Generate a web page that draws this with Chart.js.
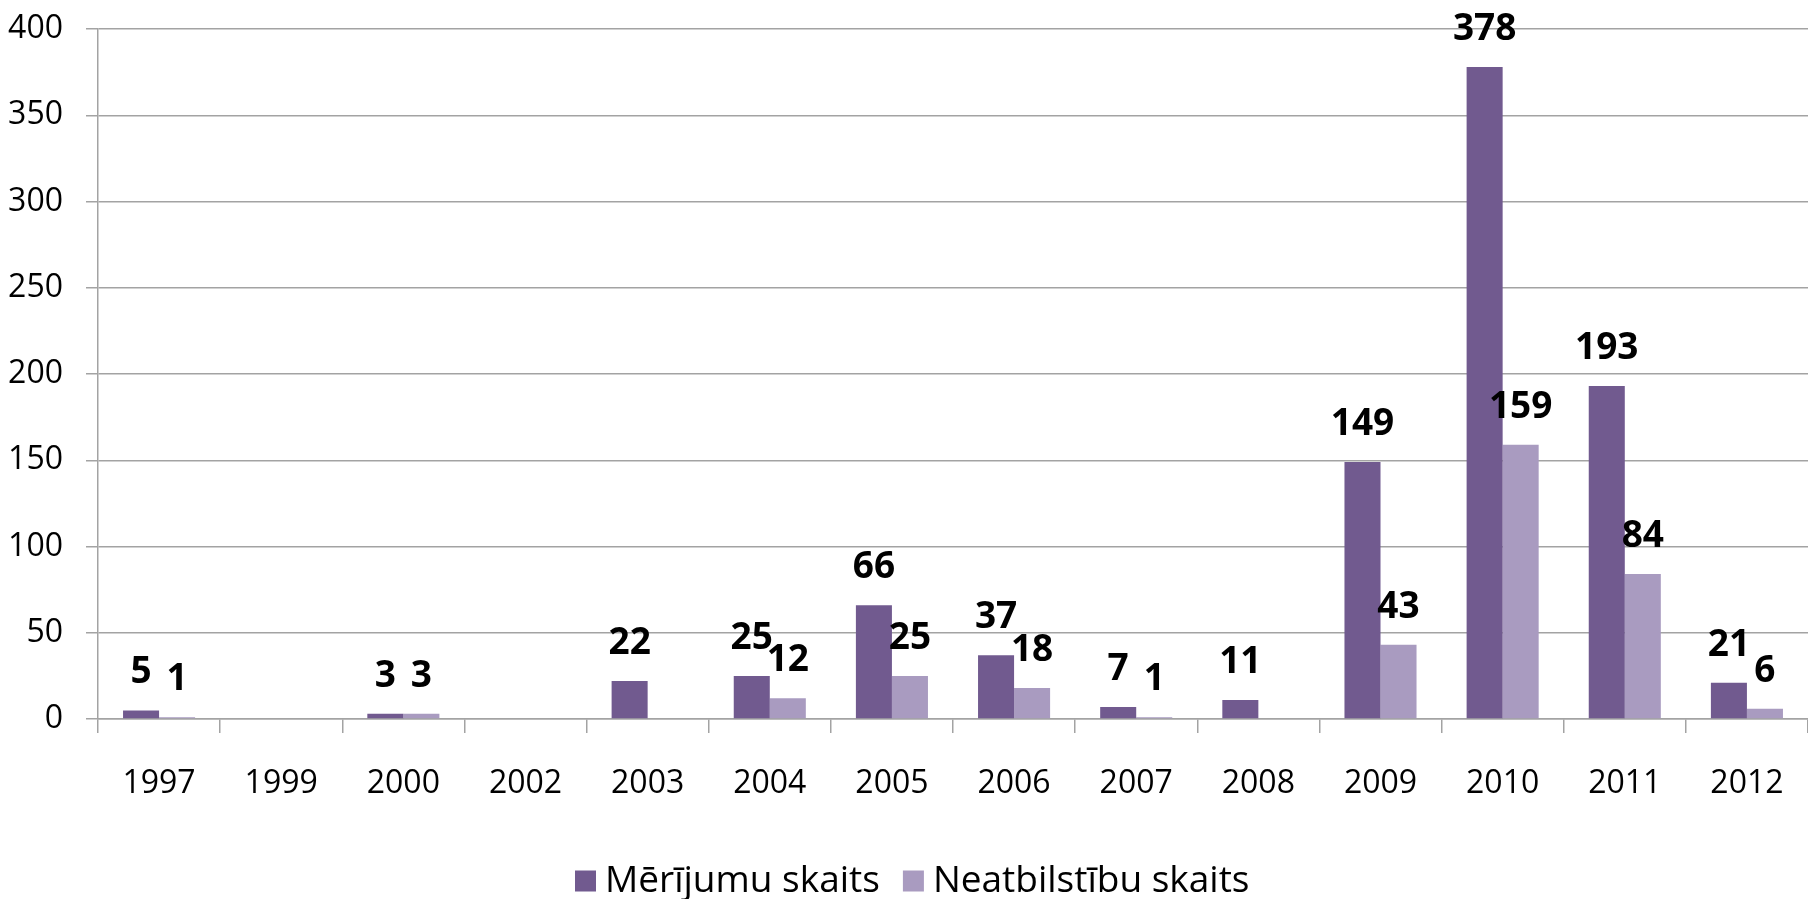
<!DOCTYPE html>
<html>
<head>
<meta charset="utf-8">
<script src="https://cdn.jsdelivr.net/npm/chart.js@4.4.0/dist/chart.umd.min.js"></script>
<style>
  html, body { margin: 0; padding: 0; background: #fff; }
  #wrap { width: 1808px; height: 899px; position: relative; }
</style>
</head>
<body>
<div id="wrap"><canvas id="chart"></canvas></div>
<script>
// dati no attēla
const gadi = ['1997', '1999', '2000', '2002', '2003', '2004', '2005', '2006', '2007', '2008', '2009', '2010', '2011', '2012'];
const merijumi = [5, null, 3, null, 22, 25, 66, 37, 7, 11, 149, 378, 193, 21];
const neatbilstibas = [1, null, 3, null, null, 12, 25, 18, 1, null, 43, 159, 84, 6];
const yTicks = [0, 50, 100, 150, 200, 250, 300, 350, 400];

const krasas = {
    tumsa: '#715A8F',
    gaisa: '#A99BC0',
    rezgis: '#a3a3a3',
    teksts: '#000000'
};

const FONT = "'Open Sans', 'DejaVu Sans', sans-serif";

// vērtību uzraksti virs stabiņiem
const vertibuUzraksti = {
    id: 'vertibuUzraksti',
    afterDatasetsDraw(chart) {
        const ctx = chart.ctx;
        ctx.save();
        ctx.font = 'bold 37px ' + FONT;
        ctx.fillStyle = krasas.teksts;
        ctx.textAlign = 'center';
        ctx.textBaseline = 'alphabetic';
        chart.data.datasets.forEach((ds, i) => {
            const meta = chart.getDatasetMeta(i);
            meta.data.forEach((el, j) => {
                const v = ds.data[j];
                if (v === null || v === undefined) return;
                ctx.fillText(String(v), el.x, el.y - 27);
            });
        });
        ctx.restore();
    }
};

// leģenda apakšā
const legenda = {
    id: 'legenda',
    afterDraw(chart) {
        const ctx = chart.ctx;
        ctx.save();
        ctx.font = '37px ' + FONT;
        ctx.textBaseline = 'middle';
        ctx.textAlign = 'left';
        const yc = 881;
        const kaste = 21;
        let x = 575;
        chart.data.datasets.forEach(ds => {
            ctx.fillStyle = ds.backgroundColor;
            ctx.fillRect(x, yc - kaste / 2, kaste, kaste);
            x += kaste + 9;
            ctx.fillStyle = '#000';
            ctx.fillText(ds.label, x, yc);
            x += ctx.measureText(ds.label).width + 23;
        });
        ctx.restore();
    }
};

new Chart(document.getElementById('chart').getContext('2d'), {
    type: 'bar',
    data: {
        labels: gadi,
        datasets: [
            {
                label: 'Mērījumu skaits',
                data: merijumi,
                backgroundColor: krasas.tumsa,
                borderWidth: 0,
                categoryPercentage: 0.59,
                barPercentage: 1
            },
            {
                label: 'Neatbilstību skaits',
                data: neatbilstibas,
                backgroundColor: krasas.gaisa,
                borderWidth: 0,
                categoryPercentage: 0.59,
                barPercentage: 1
            }
        ]
    },
    options: {
        responsive: true,
        maintainAspectRatio: false,
        animation: false,
        layout: { padding: { top: 29, right: 0, left: 0, bottom: 0 } },
        plugins: {
            legend: { display: false },
            tooltip: { enabled: false }
        },
        scales: {
            y: {
                min: 0,
                max: 400,
                afterFit: function(scale) {
                    scale.width = 98;
                    scale.paddingTop = 0;
                    scale.paddingBottom = 0;
                },
                afterBuildTicks: function(scale) {
                    scale.ticks = yTicks.map(v => ({ value: v }));
                },
                ticks: {
                    color: '#000',
                    padding: 23,
                    font: { family: FONT, size: 32 }
                },
                grid: {
                    color: krasas.rezgis,
                    lineWidth: 1.5,
                    tickLength: 12
                },
                border: { display: true, color: krasas.rezgis, width: 1.5 }
            },
            x: {
                afterFit: function(scale) {
                    scale.height = 180;
                    scale.paddingLeft = 0;
                    scale.paddingRight = 0;
                },
                ticks: {
                    color: '#000',
                    padding: 32,
                    autoSkip: false,
                    maxRotation: 0,
                    font: { family: FONT, size: 32 }
                },
                grid: {
                    offset: true,
                    drawOnChartArea: false,
                    color: krasas.rezgis,
                    lineWidth: 1.5,
                    tickLength: 14
                },
                border: { display: true, color: krasas.rezgis, width: 1.5 }
            }
        }
    },
    plugins: [vertibuUzraksti, legenda]
});
</script>
</body>
</html>
